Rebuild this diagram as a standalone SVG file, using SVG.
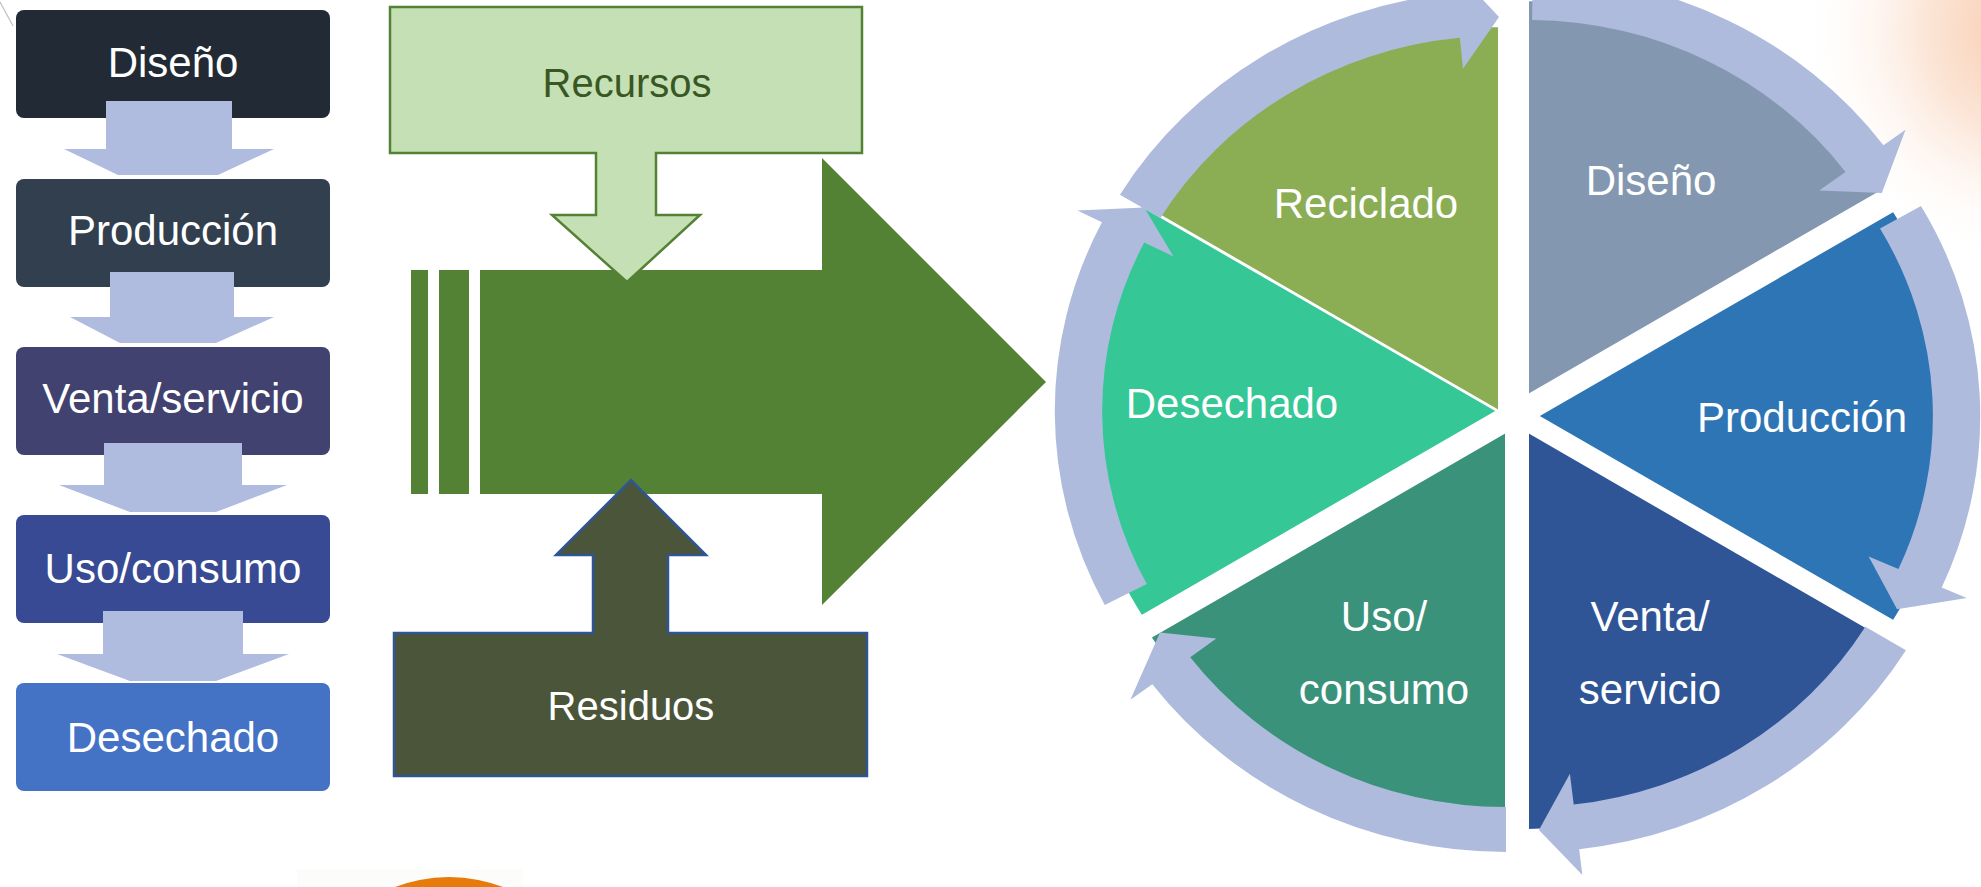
<svg xmlns="http://www.w3.org/2000/svg" width="1981" height="887" viewBox="0 0 1981 887">
<defs>
<radialGradient id="glow" gradientUnits="userSpaceOnUse" cx="2035" cy="30" r="240">
<stop offset="0" stop-color="#f4b183" stop-opacity="0.75"/>
<stop offset="0.45" stop-color="#f8cbad" stop-opacity="0.5"/>
<stop offset="1" stop-color="#ffffff" stop-opacity="0"/>
</radialGradient>
</defs>
<style>
.t{font-family:"Liberation Sans",Arial,sans-serif;font-size:42px;fill:#ffffff;text-anchor:middle}
.t40{font-size:40px}
.la{fill:#afbbdf}
.ca{fill:#aebbdd}
.sl{stroke:#ffffff;stroke-width:2;vector-effect:non-scaling-stroke}
</style>
<rect width="1981" height="887" fill="#ffffff"/>
<rect x="1760" y="0" width="221" height="320" fill="url(#glow)"/>
<line x1="0" y1="2" x2="13" y2="26" stroke="#bfbfbf" stroke-width="1.2"/>
<rect x="297" y="869" width="225" height="18" fill="#fcfcfa"/>
<circle cx="449" cy="1028" r="151" fill="#e67a0a"/>

<g id="left-list">
<g id="n-diseno"><rect x="16" y="10" width="314" height="108" rx="8" fill="#222a35"/><text class="t" x="173" y="77">Diseño</text></g>
<g id="n-produccion"><rect x="16" y="179" width="314" height="108" rx="8" fill="#323f4f"/><text class="t" x="173" y="245">Producción</text></g>
<g id="n-venta"><rect x="16" y="347" width="314" height="108" rx="8" fill="#41426f"/><text class="t" x="173" y="413">Venta/servicio</text></g>
<g id="n-uso"><rect x="16" y="515" width="314" height="108" rx="8" fill="#374a93"/><text class="t" x="173" y="583">Uso/consumo</text></g>
<g id="n-desechado"><rect x="16" y="683" width="314" height="108" rx="8" fill="#4472c4"/><text class="t" x="173" y="752">Desechado</text></g>
</g>
<g id="left-connectors">
<polygon class="la" points="106,101 232,101 232,149 274,149 218,175 118,175 64,149 106,149"/>
<polygon class="la" points="110,272 234,272 234,317 274,317 216,343 120,343 70,317 110,317"/>
<polygon class="la" points="104,443 242,443 242,485 287,485 216,512 130,512 59,485 104,485"/>
<polygon class="la" points="103,611 243,611 243,654 289,654 216,681 130,681 57,654 103,654"/>
</g>

<g id="flow-arrow">
<rect x="411" y="270" width="17" height="224" fill="#548235"/>
<rect x="439" y="270" width="30" height="224" fill="#548235"/>
<polygon points="480,270 822,270 822,158 1046,382 822,605 822,494 480,494" fill="#548235"/>
</g>
<g id="n-recursos">
<polygon points="390,7 862,7 862,153 656,153 656,215 700,215 627,282 552,215 596,215 596,153 390,153" fill="#c5e0b4" stroke="#548235" stroke-width="2.5"/>
<text class="t t40" x="627" y="97" style="fill:#385723">Recursos</text>
</g>
<g id="n-residuos">
<polygon points="394,776 867,776 867,633 668,633 668,555 706,555 631,480 556,555 593,555 593,633 394,633" fill="#4b5539" stroke="#2f5597" stroke-width="2.5"/>
<text class="t t40" x="631" y="720">Residuos</text>
</g>

<g id="cycle">
<g id="s-diseno"><path class="sl" transform="translate(1528,395) scale(1.053,1)" d="M0,0 L0,-395 A395,395 0 0 1 337.5,-205.2 Z" fill="#8497b0"/><text class="t" x="1651" y="195">Diseño</text></g>
<g id="s-produccion"><path class="sl" transform="translate(1538,416) scale(1.053,1)" d="M0,0 L337.5,-205.2 A395,395 0 0 1 337.5,205.2 Z" fill="#2e75b6"/><text class="t" x="1802" y="432">Producción</text></g>
<g id="s-venta"><path class="sl" transform="translate(1528,432) scale(1.053,1)" d="M0,0 L337.5,205.2 A395,395 0 0 1 0,398 Z" fill="#2f5597"/><text class="t" x="1650" y="631">Venta/</text><text class="t" x="1650" y="704">servicio</text></g>
<g id="s-uso"><path class="sl" transform="translate(1506,432) scale(1.053,1)" d="M0,0 L0,395 A395,395 0 0 1 -337.5,205.2 Z" fill="#3a927b"/><text class="t" x="1384" y="631">Uso/</text><text class="t" x="1384" y="704">consumo</text></g>
<g id="s-desechado"><path class="sl" transform="translate(1497,411) scale(1.053,1)" d="M0,0 L-337.5,205.2 A395,395 0 0 1 -337.5,-205.2 Z" fill="#35c795"/><text class="t" x="1232" y="418">Desechado</text></g>
<g id="s-reciclado"><path class="sl" transform="translate(1499,411) scale(1.053,1)" d="M0,0 L-329,-200 A385,385 0 0 1 0,-385 Z" fill="#8bad54"/><text class="t" x="1366" y="218">Reciclado</text></g>
</g>

<g id="cycle-connectors">
<path class="ca" transform="translate(1528,395) scale(1.053,1)" d="M4.4,-420 A420,420 0 0 1 337.6,-249.8 L358.5,-265.3 L336,-201.9 L276.5,-204.6 L301.5,-223.1 A375,375 0 0 0 3.9,-375 Z"/>
<path class="ca" transform="translate(1538,416) scale(1.053,1)" d="M363.7,-210 A420,420 0 0 1 383.4,171.5 L407.1,182.1 L341,193.3 L314,140.5 L342.3,153.1 A375,375 0 0 0 324.8,-187.5 Z"/>
<path class="ca" transform="translate(1528,432) scale(1.053,1)" d="M358.9,218.2 A420,420 0 0 1 48.6,417.2 L51.6,443 L10.4,397.9 L39.8,341.7 L43.4,372.5 A375,375 0 0 0 320.4,194.8 Z"/>
<path class="ca" transform="translate(1506,432) scale(1.053,1)" d="M0,420 A420,420 0 0 1 -335.9,252.2 L-356.7,267.8 L-328.6,200.6 L-275.1,206.5 L-299.9,225.2 A375,375 0 0 0 0,375 Z"/>
<path class="ca" transform="translate(1497,411) scale(1.053,1)" d="M-372.5,193.9 A420,420 0 0 1 -375.2,-188.7 L-398.5,-200.4 L-335,-203.6 L-307.3,-154.6 L-335,-168.5 A375,375 0 0 0 -332.6,173.1 Z"/>
<path class="ca" transform="translate(1499,411) scale(1.053,1)" d="M-360,-216.3 A420,420 0 0 1 -41.7,-417.9 L-44.3,-443.8 L0,-394 L-34.2,-342.3 L-37.2,-373.2 A375,375 0 0 0 -321.5,-193.1 Z"/>
</g>
</svg>
